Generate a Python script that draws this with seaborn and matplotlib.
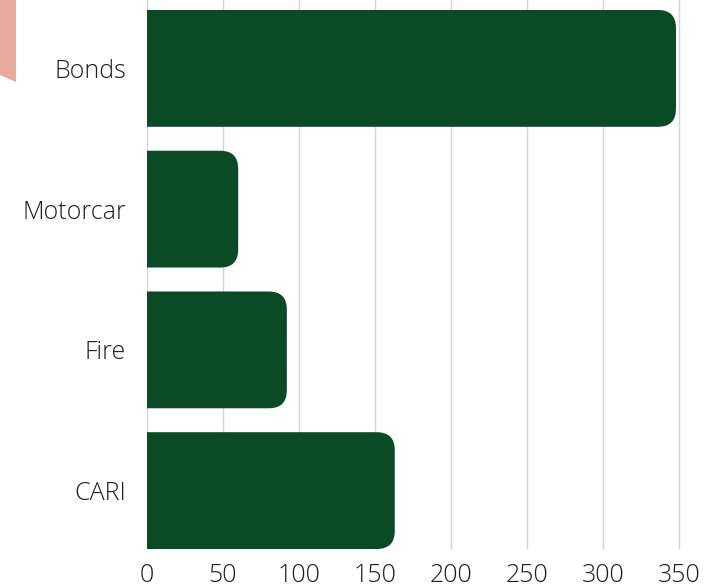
import matplotlib
matplotlib.use("Agg")
import matplotlib.pyplot as plt
import seaborn as sns
import pandas as pd
from matplotlib.patches import FancyBboxPatch, Polygon

categories = ["Bonds", "Motorcar", "Fire", "CARI"]
values = [348, 60, 92, 163]
x_ticks = [0, 50, 100, 150, 200, 250, 300, 350]

df = pd.DataFrame({"category": categories, "value": values})

sns.set_theme(style="white")
plt.rcParams['font.family'] = ['Open Sans', 'DejaVu Sans']

W, H = 714, 587
fig = plt.figure(figsize=(W / 100, H / 100), dpi=100)
ax_left, ax_right = 147 / W, 681 / W
ax_bottom, ax_top = 1 - 549 / H, 1.0
ax = fig.add_axes([ax_left, ax_bottom, ax_right - ax_left, ax_top - ax_bottom])

bar_color = "#0a4a25"
bw = 0.83
sns.barplot(data=df, x="value", y="category", orient="h", color=bar_color,
            width=bw, ax=ax, saturation=1)

xmax = 351.3
ax.set_xlim(0, xmax)
ymin_top = -bw / 2 - 10 / 140.7
ax.set_ylim(3 + bw / 2, ymin_top)

# replace bars with right-rounded patches
ax_w_px = (ax_right - ax_left) * W
ax_h_px = (ax_top - ax_bottom) * H
x_per_px = xmax / ax_w_px
y_per_px = (3 + bw / 2 - ymin_top) / ax_h_px
radius_px = 18
for p in list(ax.patches):
    x0, y0 = p.get_x(), p.get_y()
    w, h = p.get_width(), p.get_height()
    p.remove()
    ext = radius_px * 2 * x_per_px
    fb = FancyBboxPatch((x0 - ext, y0), w + ext, h,
                        boxstyle=f"round,pad=0,rounding_size={radius_px * x_per_px}",
                        mutation_aspect=y_per_px / x_per_px,
                        facecolor=bar_color, edgecolor="none", zorder=2)
    ax.add_patch(fb)

ax.set_xticks(x_ticks)
ax.set_xticklabels([str(t) for t in x_ticks])
ax.grid(axis="x", color="#d3d3d3", linewidth=1.0, zorder=0)
ax.grid(axis="y", visible=False)
ax.set_axisbelow(True)
for s in ax.spines.values():
    s.set_visible(False)
ax.tick_params(axis="both", length=0, colors="#1e1e1e")
ax.tick_params(axis="y", pad=15, labelsize=18)
ax.tick_params(axis="x", pad=10, labelsize=18)
for lab in ax.get_xticklabels() + ax.get_yticklabels():
    lab.set_fontweight("light")
ax.set_xlabel("")
ax.set_ylabel("")

# decorative pink shape at top-left
poly = Polygon([[0, 1], [16 / W, 1], [16 / W, 1 - 82 / H], [0, 1 - 75 / H]],
               closed=True, transform=fig.transFigure, facecolor="#e8a99f",
               edgecolor="none")
fig.patches.append(poly)

fig.savefig("out.png", dpi=100)
